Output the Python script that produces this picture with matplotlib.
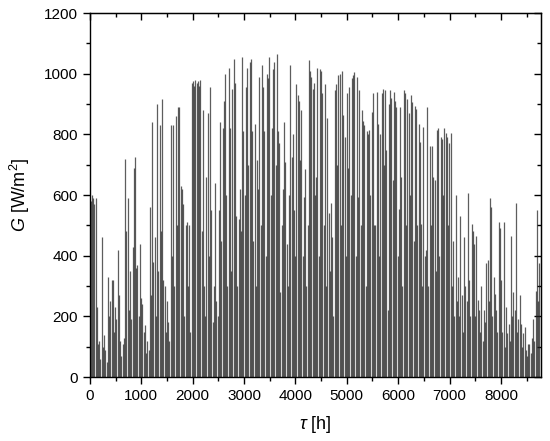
import numpy as np
import matplotlib
matplotlib.use('Agg')
import matplotlib.pyplot as plt
from matplotlib.ticker import MultipleLocator

# Tageshoechstwerte der Globalstrahlung G [W/m2], Tag 0..364
peak_jan_feb = [580, 600, 590, 570, 590, 230, 110, 120, 60, 460,
                100, 140, 90, 50, 330, 200, 250, 320, 320, 150,
                230, 190, 420, 270, 120, 70, 110, 130, 720, 480,
                590, 220, 350, 190, 430, 690, 725, 360, 370, 200,
                440, 260, 240, 150, 170, 80, 120, 90, 560, 270,
                840, 380, 460, 200, 900, 350, 830, 480, 915]
peak_mar_apr = [320, 300, 150, 250, 180, 120, 830, 400, 830, 300,
                860, 500, 890, 890, 630, 620, 570, 200, 500, 510,
                300, 500, 150, 970, 975, 960, 980, 970, 975, 960,
                980, 480, 880, 300, 200, 660, 870, 400, 955, 550,
                180, 300, 640, 250, 200, 550, 840, 450, 820, 910,
                1000, 600, 300, 1020, 820, 350, 950, 1050, 970, 530,
                300, 520, 620]
peak_may_jun = [480, 1055, 810, 600, 955, 1020, 700, 1040, 1050, 810,
                450, 835, 300, 715, 620, 990, 500, 1030, 955, 810,
                400, 1000, 985, 1055, 600, 820, 1015, 1040, 700, 1065,
                810, 770, 280, 500, 620, 840, 710, 440, 300, 600,
                1030, 725, 800, 550, 400, 965, 930, 910, 715, 880,
                400, 595, 685, 300, 500, 1045, 1010, 990, 950, 970,
                600]
peak_jul_aug = [660, 1020, 400, 1015, 1010, 935, 500, 965, 300, 855,
                540, 350, 575, 460, 200, 945, 965, 700, 995, 1000,
                500, 1010, 865, 790, 400, 935, 690, 955, 600, 985,
                995, 1005, 400, 990, 595, 945, 500, 880, 845, 830,
                300, 810, 800, 815, 600, 875, 935, 500, 500, 940,
                835, 400, 800, 935, 950, 700, 945, 750, 220, 900,
                945]
peak_sep_okt = [920, 650, 940, 910, 890, 400, 555, 890, 660, 300,
                945, 935, 500, 915, 870, 600, 930, 905, 450, 895,
                885, 500, 835, 775, 505, 300, 825, 400, 420, 890,
                300, 760, 500, 760, 660, 650, 350, 815, 820, 400,
                790, 785, 600, 820, 805, 790, 500, 770, 805, 300,
                450, 200, 600, 250, 330, 200, 530, 270, 150, 460,
                300]
peak_nov_dez = [250, 605, 320, 200, 505, 480, 440, 200, 465, 255,
                220, 150, 300, 120, 220, 180, 375, 385, 250, 590,
                560, 200, 330, 275, 220, 150, 510, 490, 320, 150,
                510, 100, 230, 145, 175, 120, 465, 200, 280, 220,
                575, 150, 190, 270, 175, 100, 145, 165, 90, 70,
                110, 110, 80, 130, 190, 120, 285, 550, 250, 375]

G_peak = np.array(peak_jan_feb + peak_mar_apr + peak_may_jun +
                  peak_jul_aug + peak_sep_okt + peak_nov_dez)
tage = np.arange(len(G_peak))
tau = tage * 24 + 12  # Mittag jedes Tages [h]

plt.rcParams['font.family'] = ['Liberation Sans', 'DejaVu Sans']
plt.rcParams['mathtext.fontset'] = 'custom'
plt.rcParams['mathtext.it'] = 'Liberation Sans:italic'
plt.rcParams['mathtext.rm'] = 'Liberation Sans'

fig = plt.figure(figsize=(5.5, 4.41), dpi=100)
ax = fig.add_axes([0.1636, 0.1451, 0.82, 0.8254])

ax.vlines(tau, 0, G_peak, colors='#1e1e1e', alpha=0.72, linewidth=0.9)

ax.set_xlim(0, 8780)
ax.set_ylim(0, 1200)
ax.xaxis.set_major_locator(MultipleLocator(1000))
ax.xaxis.set_minor_locator(MultipleLocator(500))
ax.yaxis.set_major_locator(MultipleLocator(200))
ax.yaxis.set_minor_locator(MultipleLocator(100))
ax.tick_params(which='both', direction='out', labelsize=11, width=1)
ax.tick_params(which='major', length=5)
ax.tick_params(which='minor', length=3)

# Spiegelachsen oben/rechts mit Ticks nach innen
top = ax.secondary_xaxis('top')
top.xaxis.set_major_locator(MultipleLocator(1000))
top.xaxis.set_minor_locator(MultipleLocator(500))
top.tick_params(which='both', direction='in', labeltop=False, width=1)
top.tick_params(which='major', length=5)
top.tick_params(which='minor', length=3)
right = ax.secondary_yaxis('right')
right.yaxis.set_major_locator(MultipleLocator(200))
right.yaxis.set_minor_locator(MultipleLocator(100))
right.tick_params(which='both', direction='in', labelright=False, width=1)
right.tick_params(which='major', length=5)
right.tick_params(which='minor', length=3)

for s in ax.spines.values():
    s.set_linewidth(1)

ax.set_xlabel(r'$\tau$ [h]', fontsize=13, labelpad=8)
ax.set_ylabel(r'$G$ [W/m$^2$]', fontsize=13, labelpad=9)

fig.savefig('out.png', dpi=100)
